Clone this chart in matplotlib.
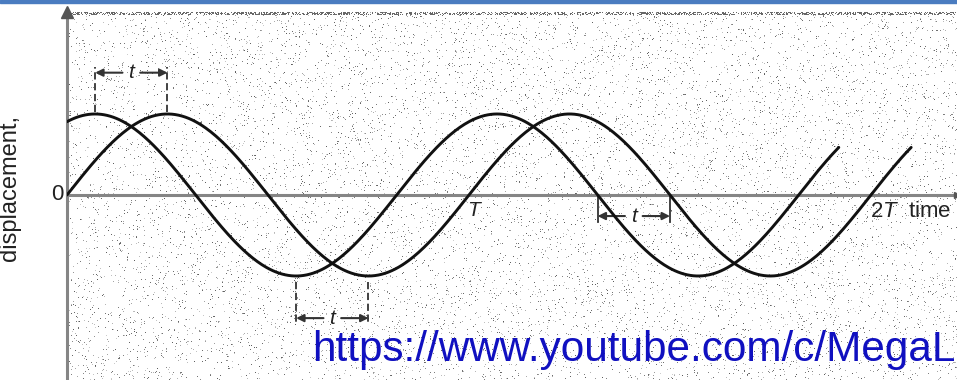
import matplotlib.pyplot as plt
import numpy as np
from matplotlib.patches import Rectangle

plt.rcParams['font.family'] = ['Liberation Sans', 'DejaVu Sans']
plt.rcParams['mathtext.fontset'] = 'custom'
plt.rcParams['mathtext.rm'] = 'Liberation Sans'
plt.rcParams['mathtext.it'] = 'Liberation Sans:italic'

# two waves of the same period, the second lagging the first by t
PERIOD = 1.0
LAG = 0.18
AMPLITUDE = 1.0
wave_phase_lead = [LAG, 0.0]
wave_end_time = [1.92, 2.10]

# where the lag t is marked: phase of the feature on the lagging wave,
# height of the double arrow and extent of the bracket lines
marker_phase = [0.25, 0.75, 1.5]
marker_arrow_y = [1.51, -1.52, -0.26]
marker_bar_y = [(1.02, 1.58), (-1.07, -1.57), (0.0, -0.33)]
marker_dashed = [True, True, False]

time_ticks = [1.0, 2.0]

XMAX = 2.214
YMIN, YMAX = -2.284, 2.259

fig = plt.figure(figsize=(9.57, 3.80), dpi=100)
ax = fig.add_axes([67 / 957, 0, 890 / 957, 368 / 380])
ax.set_xlim(0, XMAX)
ax.set_ylim(YMIN, YMAX)

# grainy scanned-paper background
rng = np.random.default_rng(11)
h, w = 368, 890
dots = rng.random((h, w)) < 0.035
shade = rng.uniform(0.2, 0.65, (h, w)) * dots
shade[:3] = np.maximum(shade[:3], (rng.random((3, w)) < 0.45) * 0.6)
rgba = np.zeros((h, w, 4))
rgba[..., 3] = shade
ax.imshow(rgba, extent=(0, XMAX, YMIN, YMAX), aspect='auto',
          interpolation='bilinear', zorder=0)

axis_grey = '#858585'
for side in ['top', 'right']:
    ax.spines[side].set_visible(False)
ax.spines['bottom'].set_position(('data', 0))
for side in ['left', 'bottom']:
    ax.spines[side].set_color(axis_grey)
    ax.spines[side].set_linewidth(2.2)
ax.set_xticks([])
ax.set_yticks([])
ax.patch.set_alpha(0)

# arrow heads on the axes
ax.plot(0, 1, marker='^', ms=9, color='#555555',
        transform=ax.transAxes, clip_on=False, zorder=3)
ax.plot(1, 0, marker='>', ms=5, color='#555555',
        transform=ax.get_yaxis_transform(), clip_on=False, zorder=3)

# the two waves
for lead, end in zip(wave_phase_lead, wave_end_time):
    tt = np.linspace(0, end, 500)
    ax.plot(tt, AMPLITUDE * np.sin(2 * np.pi * (tt + lead) / PERIOD),
            color='#111111', lw=2.1, solid_capstyle='round', zorder=4)

# lag markers between matching points of the two waves
for ph, ya, (yb0, yb1), dashed in zip(marker_phase, marker_arrow_y,
                                      marker_bar_y, marker_dashed):
    x1 = ph * PERIOD
    x0 = x1 - LAG * PERIOD
    ls = (0, (4, 2)) if dashed else '-'
    for xx in (x0, x1):
        ax.plot([xx, xx], [yb0, yb1], color='#333333', lw=1.3, ls=ls, zorder=3)
    mid = (x0 + x1) / 2
    gap = 0.022
    for start, stop in ((mid - gap, x0), (mid + gap, x1)):
        ax.annotate('', xy=(stop, ya), xytext=(start, ya),
                    arrowprops=dict(arrowstyle='-|>', color='#333333', lw=1.5,
                                    mutation_scale=11, shrinkA=0, shrinkB=0),
                    zorder=3)
    ax.text(mid, ya, 't', style='italic', fontsize=15, ha='center',
            va='center', color='#222222', zorder=5)

# time axis labels
ax.text(time_ticks[0] * PERIOD - 0.004, -0.08, '$T$', fontsize=15,
        ha='left', va='top', color='#222222')
ax.text(time_ticks[1] * PERIOD - 0.002, -0.08, r'$2T$  time', fontsize=16,
        ha='left', va='top', color='#222222')
ax.text(-0.008, 0.0, '0', fontsize=16, ha='right', va='center',
        color='#222222')

fig.text(10 / 957, 1 - 188 / 380, 'displacement,', rotation=90, fontsize=17,
         ha='center', va='center', color='#222222')

fig.text(312 / 957, (380 - 361) / 380, 'https://www.youtube.com/c/MegaL',
         fontsize=30.4, color='#1010c0', ha='left', va='baseline')

fig.patches.append(Rectangle((0, 1 - 3 / 380), 1, 3 / 380,
                             transform=fig.transFigure, color='#4a7cc0'))

fig.savefig('out.png', dpi=100)
plt.close(fig)
